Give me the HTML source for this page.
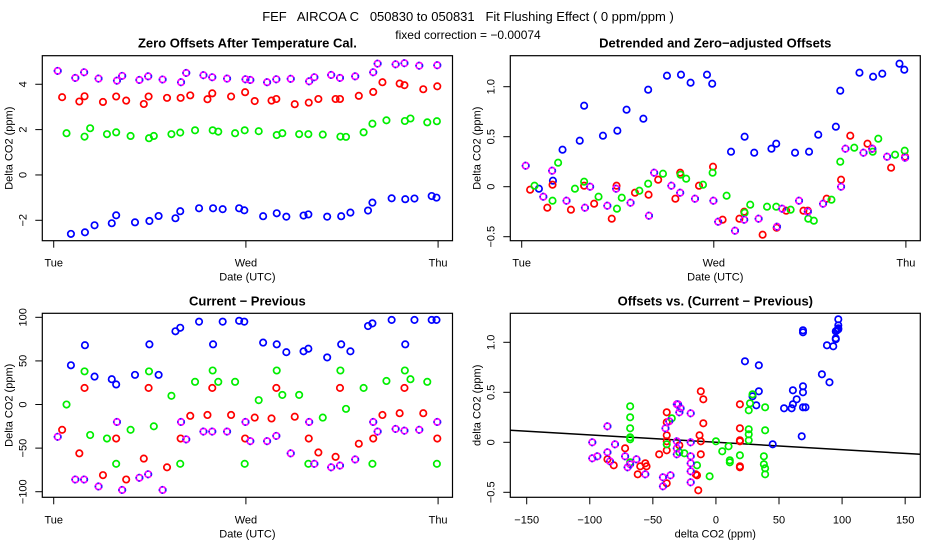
<!DOCTYPE html>
<html><head><meta charset="utf-8"><style>
body{margin:0;background:#fff;}
svg{display:block;font-family:"Liberation Sans",sans-serif;}
</style></head><body>
<svg id="c" width="936" height="540" viewBox="0 0 936 540">
<text x="468" y="21" text-anchor="middle" font-size="13" style="white-space:pre">FEF   AIRCOA C   050830 to 050831   Fit Flushing Effect ( 0 ppm/ppm )</text>
<text x="468" y="39" text-anchor="middle" font-size="12">fixed correction = −0.00074</text>
</svg>
<script>
// times in half-hours from Tue 00:00 (48 units per day)
const blueT=[4.3,7.8,10.2,14.5,15.6,20.3,23.9,26.2,30.4,31.6,36.3,39.8,42.2,46.3,47.6,52.3,55.7,58.1,62.4,63.6,68.3,71.8,74.1,78.5,79.6,84.4,87.8,90.1,94.4,95.6];
const redT=[2.1,6.4,7.7,12.3,15.6,18.1,22.5,23.7,28.3,31.7,34.1,38.4,39.6,44.3,47.8,50.2,54.4,55.6,60.2,63.7,66.1,70.4,71.5,76.2,79.8,82.1,86.4,87.6,92.3,95.8];
const greenT=[3.2,7.7,9.1,13.3,15.6,19.2,23.8,25.0,29.4,31.6,35.3,39.7,41.1,45.3,47.7,51.2,55.7,57.1,61.3,63.6,67.2,71.6,73.0,77.4,79.6,83.1,87.7,89.1,93.3,95.7];
const magT=[1.0,5.4,7.6,11.2,15.8,17.1,21.4,23.6,27.2,31.8,33.1,37.4,39.6,43.3,47.9,49.1,53.3,55.6,59.2,63.8,65.1,69.3,71.5,75.3,79.8,80.9,85.4,87.6,91.3,95.8];
const blueZ=[-2.6,-2.53,-2.22,-2.13,-1.78,-2.09,-2.03,-1.81,-1.91,-1.6,-1.47,-1.47,-1.51,-1.47,-1.56,-1.82,-1.69,-1.84,-1.79,-1.74,-1.84,-1.82,-1.66,-1.57,-1.22,-1.03,-1.07,-1.04,-0.93,-1.0];
const redZ=[3.43,3.24,3.47,3.22,3.46,3.28,3.13,3.46,3.4,3.4,3.51,3.34,3.6,3.46,3.65,3.26,3.28,3.35,3.12,3.19,3.35,3.35,3.35,3.49,3.66,4.09,4.03,3.96,3.78,3.91];
const greenZ=[1.84,1.69,2.06,1.8,1.88,1.72,1.62,1.72,1.8,1.87,1.97,1.97,1.91,1.84,1.97,1.93,1.76,1.84,1.8,1.8,1.78,1.69,1.68,1.88,2.26,2.41,2.38,2.49,2.32,2.37];
const magZ=[4.59,4.28,4.53,4.25,4.16,4.37,4.19,4.35,4.21,4.09,4.5,4.4,4.31,4.25,4.22,4.19,4.09,4.22,4.24,4.13,4.31,4.41,4.28,4.35,4.53,4.91,4.88,4.93,4.82,4.84];
const blueD=[-0.02,0.06,0.37,0.46,0.81,0.51,0.56,0.77,0.68,0.97,1.11,1.12,1.04,1.12,1.03,0.35,0.5,0.34,0.38,0.43,0.34,0.35,0.52,0.6,0.96,1.14,1.1,1.13,1.23,1.17];
const redD=[-0.03,-0.21,0.02,-0.23,0.01,-0.17,-0.32,0.01,-0.06,-0.08,0.07,-0.12,0.14,0.01,0.2,-0.33,-0.32,-0.25,-0.48,-0.41,-0.24,-0.24,-0.24,-0.12,0.07,0.51,0.43,0.38,0.19,0.3];
const greenD=[0.01,-0.14,0.24,-0.02,0.05,-0.1,-0.22,-0.11,-0.04,0.03,0.13,0.12,0.08,0.02,0.14,-0.09,-0.26,-0.18,-0.2,-0.2,-0.23,-0.32,-0.34,-0.13,0.25,0.39,0.35,0.48,0.32,0.36];
const magD=[0.21,-0.1,0.16,-0.14,-0.21,0.0,-0.19,-0.02,-0.16,-0.29,0.14,0.01,-0.06,-0.12,-0.14,-0.35,-0.44,-0.33,-0.32,-0.4,-0.22,-0.14,-0.25,-0.17,0.0,0.38,0.34,0.38,0.3,0.29];
const blueC=[45,68,32,29,23,34,69,34,84,88,95,69,95,96,95,71,69,60,61,64,54,69,61,90,93,97,69,97,97,97];
const redC=[-29,-56,19,-81,-39,-86,-62,19,-72,-39,-13,-12,19,-12,-39,-15,-16,19,-14,-39,-55,-60,19,-45,-39,-12,-10,19,-10,-39];
const greenC=[0,38,-35,-39,-68,-29,38,-25,10,-68,26,39,26,26,-68,5,39,11,11,-68,-15,39,-5,19,-68,27,39,29,26,-68];
const magC=[-37,-86,-86,-94,-20,-98,-84,-80,-98,-20,-40,-31,-31,-31,-20,-42,-42,-36,-56,-20,-68,-72,-70,-63,-20,-31,-28,-30,-29,-20];
const fitSlope=-0.00074, fitIntercept=0;
const dayTicks=[0,48,96], dayLabels=["Tue","Wed","Thu"];
const ticksZ=[-2,0,2,4], ticksD=[-0.5,0,0.5,1.0], ticksC=[-100,-50,0,50,100], ticksX4=[-150,-100,-50,0,50,100,150];

const svg=document.getElementById('c');
const NS='http://www.w3.org/2000/svg';
function mk(tag,at,parent){const e=document.createElementNS(NS,tag);for(const k in at)e.setAttribute(k,at[k]);(parent||svg).appendChild(e);return e;}
function fmt(v){let s=(Math.abs(v)===1?v.toFixed(1):String(v));return s.replace('-','−');}

function panel(p){
  const g=mk('g',{});
  
  
  const sx=v=>p.x0+(v-p.xmin)/(p.xmax-p.xmin)*(p.x1-p.x0);
  const sy=v=>p.y1-(v-p.ymin)/(p.ymax-p.ymin)*(p.y1-p.y0);
  const box=mk('rect',{x:p.x0,y:p.y0,width:p.x1-p.x0,height:p.y1-p.y0,fill:'none',stroke:'#000','stroke-width':1.2},g);
  
  
  const t=mk('text',{x:(p.x0+p.x1)/2,y:p.y0-8,'text-anchor':'middle','font-size':13,'font-weight':'bold'},g);
  t.textContent=p.title;
  
  
  p.xt.forEach((v,i)=>{
    const x=sx(v);
    const l=mk('line',{x1:x,x2:x,y1:p.y1,y2:p.y1+7,stroke:'#000'},g);
    
    
    const tx=mk('text',{x:x,y:p.y1+26,'text-anchor':'middle','font-size':11},g);
    tx.textContent=p.xl?p.xl[i]:fmt(v);
    
    
  });
  p.yt.forEach(v=>{
    const y=sy(v);
    const l=mk('line',{x1:p.x0-7,x2:p.x0,y1:y,y2:y,stroke:'#000'},g);
    
    
    const tx=mk('text',{x:0,y:0,'text-anchor':'middle','font-size':11,transform:`translate(${p.x0-16},${y}) rotate(-90)`},g);
    tx.textContent=fmt(v);
    
    
  });
  const xa=mk('text',{x:(p.x0+p.x1)/2,y:p.y1+40,'text-anchor':'middle','font-size':11},g);
  xa.textContent=p.xlab;
  
  
  const ya=mk('text',{x:0,y:0,'text-anchor':'middle','font-size':11,transform:`translate(${p.x0-30},${(p.y0+p.y1)/2}) rotate(-90)`},g);
  ya.textContent=p.ylab;
  
  
  if(p.fit){
    const fl=mk('line',{x1:p.x0,x2:p.x1,y1:sy(fitIntercept+fitSlope*p.xmin),y2:sy(fitIntercept+fitSlope*p.xmax),stroke:'#000','stroke-width':1.5},g);
    
    
  }
  p.series.forEach(s=>{
    s.xs.forEach((xv,i)=>{
      const cx=sx(xv),cy=sy(s.ys[i]);
      const c=mk('circle',{cx:cx,cy:cy,r:3.2,fill:'none',stroke:s.col,'stroke-width':1.7},g);
      
      
      if(s.dot){const d=mk('circle',{cx:cx,cy:cy,r:3.2,fill:'none',stroke:'#2020ff','stroke-width':1.7,'stroke-dasharray':'1.5 3'},g);}
    });
  });
}
const L={x0:42.3,x1:452.5}, R={x0:510.3,x1:920.3};
const T={y0:55.7,y1:240.7}, B={y0:313.3,y1:497.3};
const tRange={xmin:-2.85,xmax:99.6};
function ser(a,b,c,d){return [
 {name:'blue',col:'#0000ff',xs:a[0],ys:a[1]},
 {name:'red',col:'#ff0000',xs:b[0],ys:b[1]},
 {name:'green',col:'#00ee00',xs:c[0],ys:c[1]},
 {name:'magenta',col:'#ff00ff',xs:d[0],ys:d[1],dot:true}];}
panel(Object.assign({name:'zero-offsets-panel',title:'Zero Offsets After Temperature Cal.',ymin:-2.9,ymax:5.26,xt:dayTicks,xl:dayLabels,yt:ticksZ,xlab:'Date (UTC)',ylab:'Delta CO2 (ppm)',
 series:ser([blueT,blueZ],[redT,redZ],[greenT,greenZ],[magT,magZ])},L,T,tRange));
panel(Object.assign({name:'detrended-panel',title:'Detrended and Zero−adjusted Offsets',ymin:-0.54,ymax:1.31,xt:dayTicks,xl:dayLabels,yt:ticksD,xlab:'Date (UTC)',ylab:'Delta CO2 (ppm)',
 series:ser([blueT,blueD],[redT,redD],[greenT,greenD],[magT,magD])},R,T,tRange));
panel(Object.assign({name:'current-previous-panel',title:'Current − Previous',ymin:-106.4,ymax:104.6,xt:dayTicks,xl:dayLabels,yt:ticksC,xlab:'Date (UTC)',ylab:'Delta CO2 (ppm)',
 series:ser([blueT,blueC],[redT,redC],[greenT,greenC],[magT,magC])},L,B,tRange));
panel(Object.assign({name:'offsets-vs-diff-panel',title:'Offsets vs. (Current − Previous)',xmin:-163,xmax:162,ymin:-0.55,ymax:1.29,xt:ticksX4,yt:ticksD,xlab:'delta CO2 (ppm)',ylab:'delta CO2 (ppm)',fit:true,
 series:ser([blueC,blueD],[redC,redD],[greenC,greenD],[magC,magD])},R,B));
</script>
</body></html>
